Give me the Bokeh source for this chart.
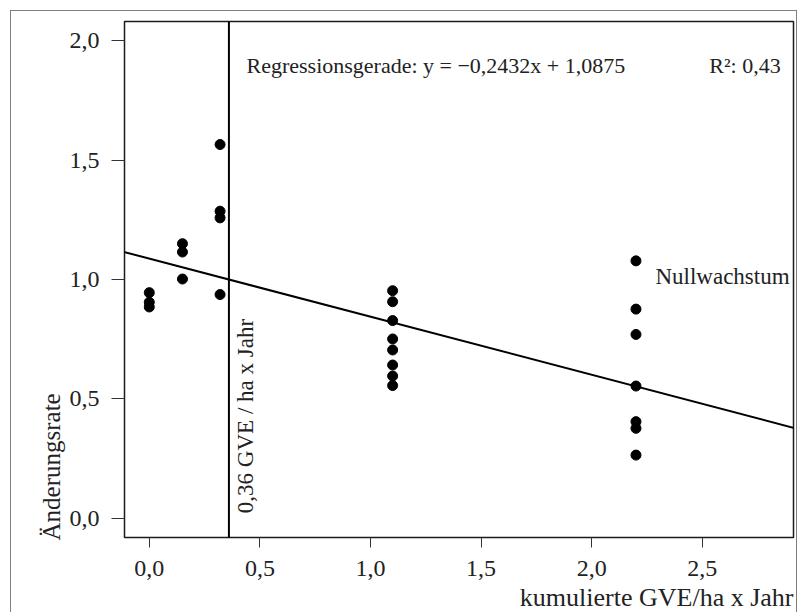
from bokeh.plotting import figure
from bokeh.models import Range1d, FixedTicker, Span, Slope, Label, Title
from bokeh.embed import file_html
from bokeh.resources import INLINE

# ---- data ----
X_GVE = [0.0, 0.0, 0.0,
         0.15, 0.15, 0.15,
         0.32, 0.32, 0.32, 0.32,
         1.1, 1.1, 1.1, 1.1, 1.1, 1.1, 1.1, 1.1,
         2.2, 2.2, 2.2, 2.2, 2.2, 2.2, 2.2]
Y_RATE = [0.945, 0.905, 0.885,
          1.150, 1.115, 1.002,
          1.565, 1.286, 1.258, 0.937,
          0.953, 0.907, 0.828, 0.751, 0.705, 0.642, 0.596, 0.556,
          1.078, 0.876, 0.770, 0.554, 0.405, 0.377, 0.265]

SLOPE = -0.2432
INTERCEPT = 1.0875
THRESHOLD = 0.36

X_TICKS = [0.0, 0.5, 1.0, 1.5, 2.0, 2.5]
X_TICK_LABELS = ["0,0", "0,5", "1,0", "1,5", "2,0", "2,5"]
Y_TICKS = [0.0, 0.5, 1.0, 1.5, 2.0]
Y_TICK_LABELS = ["0,0", "0,5", "1,0", "1,5", "2,0"]

X_TITLE = "kumulierte GVE/ha x Jahr"
Y_TITLE = "Änderungsrate"
REG_TEXT = "Regressionsgerade: y = \u22120,2432x + 1,0875"
R2_TEXT = "R\u00b2: 0,43"
THRESH_TEXT = "0,36 GVE / ha x Jahr"
NULL_TEXT = "Nullwachstum"

FONT = "Liberation Serif"
TXT = "#222222"

p = figure(width=787, height=602, output_backend="svg", toolbar_location=None,
           x_range=Range1d(-0.112, 2.912), y_range=Range1d(-0.08, 2.08),
           min_border_left=113, min_border_top=10, min_border_right=5,
           min_border_bottom=76)
p.styles = {"margin-left": "10px", "margin-top": "10px",
            "border-left": "1px solid #7f7f7f", "border-top": "1px solid #7f7f7f",
            "border-right": "1px solid #7f7f7f"}

p.xgrid.visible = False
p.ygrid.visible = False
p.outline_line_color = "#1a1a1a"
p.outline_line_width = 1.5

for ax in (p.xaxis[0], p.yaxis[0]):
    ax.axis_line_color = None
    ax.minor_tick_line_color = None
    ax.major_tick_in = 0
    ax.major_tick_line_color = "#333333"
    ax.major_label_text_font = FONT
    ax.major_label_text_font_size = "24px"
    ax.major_label_text_color = TXT

p.xaxis.ticker = FixedTicker(ticks=X_TICKS)
p.xaxis.major_label_overrides = dict(zip(X_TICKS, X_TICK_LABELS))
p.xaxis.major_tick_out = 10
p.xaxis.major_label_standoff = 13

p.yaxis.ticker = FixedTicker(ticks=Y_TICKS)
p.yaxis.major_label_overrides = dict(zip(Y_TICKS, Y_TICK_LABELS))
p.yaxis.major_tick_out = 13
p.yaxis.major_label_standoff = 12

xt = Title(text=X_TITLE, align="right", text_font=FONT, text_font_size="26px",
           text_font_style="normal", text_color=TXT, standoff=4, offset=0)
p.add_layout(xt, "below")
yt = Title(text=Y_TITLE, align="left", text_font=FONT, text_font_size="25px",
           text_font_style="normal", text_color=TXT, standoff=4, offset=-3)
p.add_layout(yt, "left")

# points
p.scatter(X_GVE, Y_RATE, size=10, color="black")

# regression line and threshold
p.add_layout(Slope(gradient=SLOPE, y_intercept=INTERCEPT, line_color="black", line_width=2))
p.add_layout(Span(location=THRESHOLD, dimension="height", line_color="black", line_width=2))

# texts
p.add_layout(Label(x=0.4394, y=1.897, text=REG_TEXT, text_font=FONT, text_font_size="22px",
                   text_color=TXT, text_baseline="alphabetic", text_align="left"))
p.add_layout(Label(x=2.854, y=1.897, text=R2_TEXT, text_font=FONT, text_font_size="22px",
                   text_color=TXT, text_baseline="alphabetic", text_align="right"))
p.add_layout(Label(x=2.288, y=1.014, text=NULL_TEXT, text_font=FONT, text_font_size="23px",
                   text_color=TXT, text_baseline="alphabetic", text_align="left"))
p.add_layout(Label(x=THRESHOLD, y=0.022, x_offset=17, text=THRESH_TEXT, text_font=FONT,
                   text_font_size="23px", text_color=TXT, angle=90, angle_units="deg",
                   text_baseline="alphabetic", text_align="left"))

open("out.html", "w").write(file_html(p, INLINE))
